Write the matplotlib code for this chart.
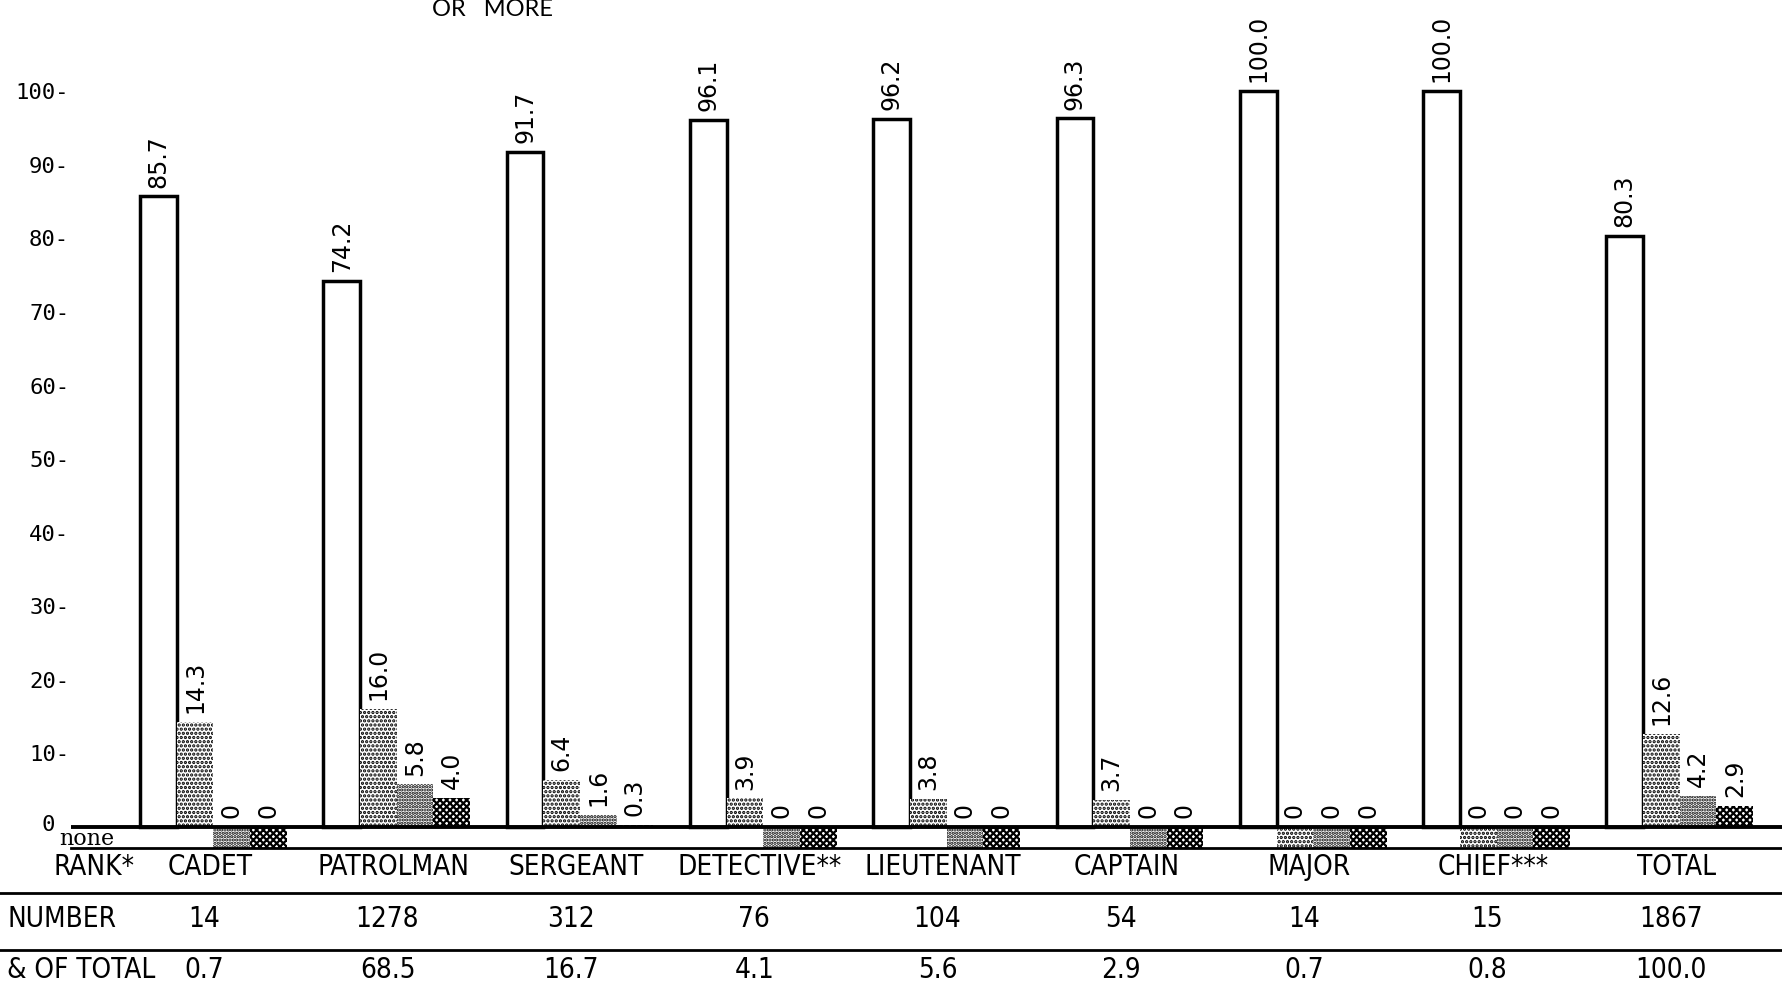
import numpy as np
import matplotlib.pyplot as plt
from matplotlib import font_manager
from matplotlib.font_manager import FontProperties
from matplotlib.lines import Line2D
from matplotlib.transforms import blended_transform_factory

# data (percent of each rank)
ranks = ["CADET", "PATROLMAN", "SERGEANT", "DETECTIVE**", "LIEUTENANT",
         "CAPTAIN", "MAJOR", "CHIEF***", "TOTAL"]
first = [85.7, 74.2, 91.7, 96.1, 96.2, 96.3, 100.0, 100.0, 80.3]
second = [14.3, 16.0, 6.4, 3.9, 3.8, 3.7, 0, 0, 12.6]
third = [0, 5.8, 1.6, 0, 0, 0, 0, 0, 4.2]
fourth = [0, 4.0, 0.3, 0, 0, 0, 0, 0, 2.9]
numbers = ["14", "1278", "312", "76", "104", "54", "14", "15", "1867"]
pct_total = ["0.7", "68.5", "16.7", "4.1", "5.6", "2.9", "0.7", "0.8", "100.0"]
yticks = [0, 10, 20, 30, 40, 50, 60, 70, 80, 90, 100]

# pick a narrow sans for the table text
cond_path = font_manager.findfont(FontProperties(family="DejaVu Sans", stretch="condensed"))
if "Condensed" in cond_path:
    table_font = FontProperties(fname=cond_path, size=20)
else:
    table_font = FontProperties(family="Lato", size=20)

plt.rcParams["hatch.linewidth"] = 1.6

fig = plt.figure(figsize=(17.83, 9.83), dpi=100)
ax = fig.add_axes([0.0396, 0.1377, 0.9604, 0.8623])

x = np.arange(len(ranks))
w = 0.2
series = [first, second, third, fourth]
styles = [
    dict(facecolor="white", edgecolor="black", linewidth=2.5, hatch=None),
    dict(facecolor="white", edgecolor="black", linewidth=0, hatch="...."),
    dict(facecolor="white", edgecolor="black", linewidth=0, hatch="....."),
    dict(facecolor="white", edgecolor="black", linewidth=0, hatch="xxxxx"),
]
none_depth = 2.8

for k, (vals, st) in enumerate(zip(series, styles)):
    vals = np.array(vals)
    xpos = x + k * w
    ax.bar(xpos, vals, width=w, align="edge", **st)
    zero = vals == 0
    if zero.any():
        ax.bar(xpos[zero], -none_depth, width=w, align="edge",
               facecolor="white", edgecolor="black", linewidth=0,
               hatch=st["hatch"] or "....")
    for xi, v in zip(xpos, vals):
        lab = "0" if v == 0 else f"{v:.1f}"
        ax.text(xi + w / 2, v + 1.2, lab, rotation=90, ha="center",
                va="bottom", fontsize=17, family="DejaVu Sans")

ax.axhline(0, color="black", lw=2.8, zorder=5)
ax.set_xlim(-0.379, 8.963)
ax.set_ylim(-none_depth, 112.4)
for s in ["top", "right", "left"]:
    ax.spines[s].set_visible(False)
ax.spines["bottom"].set_linewidth(2)
ax.set_xticks([])
ax.set_yticks(yticks)
ax.set_yticklabels([""] + [f"{v}-" for v in yticks[1:]],
                   family="DejaVu Sans Mono", fontsize=16)
ax.tick_params(axis="y", length=0, pad=1)

# zero label sits just left of the "none" row
ax.text(-0.465, 0.3, "0", family="DejaVu Sans Mono", fontsize=16,
        ha="right", va="center", clip_on=False)
ax.text(-0.44, -1.6, "none", family="DejaVu Serif", fontsize=16,
        ha="left", va="center", clip_on=False)

# table rows under the chart
tr = blended_transform_factory(ax.transData, fig.transFigure)
row_y = [0.118, 0.0648, 0.0135]
fig.text(0.03, row_y[0], "RANK*", fontproperties=table_font, va="center")
fig.text(0.004, row_y[1], "NUMBER", fontproperties=table_font, va="center")
fig.text(0.004, row_y[2], "& OF TOTAL", fontproperties=table_font, va="center")
for xi, r, n, p in zip(x, ranks, numbers, pct_total):
    fig.text(xi + 0.38, row_y[0], r, transform=tr, fontproperties=table_font,
             ha="center", va="center")
    fig.text(xi + 0.35, row_y[1], n, transform=tr, fontproperties=table_font,
             ha="center", va="center")
    fig.text(xi + 0.35, row_y[2], p, transform=tr, fontproperties=table_font,
             ha="center", va="center")

for yl in [0.0914, 0.0336]:
    fig.add_artist(Line2D([0, 1], [yl, yl], transform=fig.transFigure,
                          color="black", lw=2))

fig.text(0.276, 0.984, "OR   MORE", family="Lato", fontsize=17,
         ha="center", va="baseline")

fig.savefig("out.png", dpi=100, facecolor="white")
